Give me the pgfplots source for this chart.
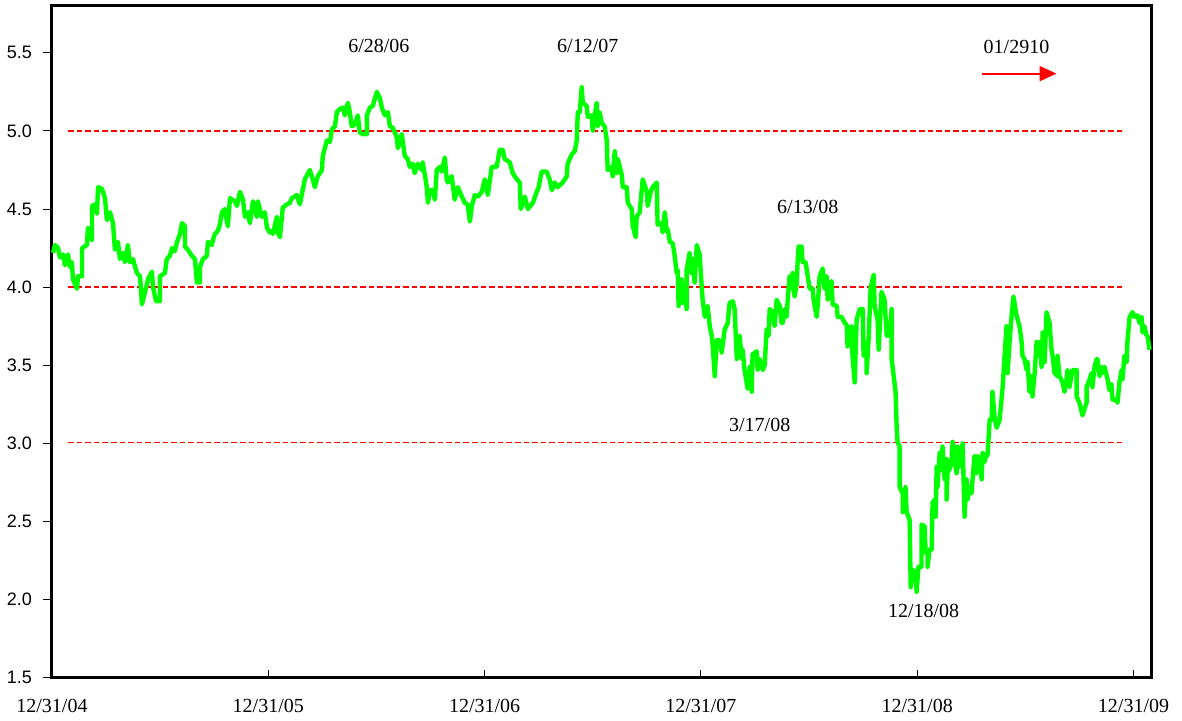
\documentclass[border=0pt]{standalone}
\usepackage{fontspec}
\setmainfont{Liberation Serif}
\newfontfamily\arialfont{Liberation Sans}
\usepackage{pgfplots}
\pgfplotsset{compat=1.18}
\usetikzlibrary{arrows.meta}
\definecolor{lgreen}{RGB}{0,255,0}
\definecolor{dred}{RGB}{255,0,0}
\begin{document}
\begin{tikzpicture}
\begin{axis}[
 at={(0,0)}, anchor=south west,
 scale only axis, width=549.75pt, height=336pt,
 xmin=0, xmax=5.081, ymin=1.5, ymax=5.80,
 axis line style={line width=1.5pt},
 xtick={0,1,2,3,4,5},
 xticklabels={12/31/04,12/31/05,12/31/06,12/31/07,12/31/08,12/31/09},
 ytick={1.5,2,2.5,3,3.5,4,4.5,5,5.5},
 xtick pos=bottom, ytick pos=left,
 tick align=inside,
 major tick length=4pt,
 tick style={black, line width=0.5pt},
 ytick style={xshift=-4.5pt},
 xticklabel style={font=\fontsize{10}{12}\selectfont, yshift=-7pt},
 yticklabel style={font=\arialfont\fontsize{9}{10}\selectfont, xshift=-6.5pt,
   /pgf/number format/.cd, fixed, fixed zerofill, precision=1, assume math mode=true},
 clip=false,
]
\addplot[draw=dred, line width=0.8pt, dash pattern=on 2.8pt off 1.5pt, forget plot] table {
0.074 5
4.96 5

0.074 4
4.96 4

0.074 3.005
4.96 3.005
};
\addplot[lgreen, line width=2.2pt, line join=round] table {
0.005 4.22
0.014 4.27
0.028 4.25
0.037 4.19
0.051 4.21
0.060 4.14
0.074 4.21
0.083 4.13
0.092 4.16
0.097 4.05
0.116 3.99
0.120 4.07
0.139 4.07
0.139 4.25
0.162 4.27
0.166 4.38
0.185 4.30
0.185 4.52
0.199 4.53
0.208 4.47
0.213 4.64
0.231 4.63
0.245 4.57
0.254 4.43
0.268 4.48
0.282 4.41
0.291 4.24
0.305 4.29
0.314 4.18
0.328 4.22
0.337 4.16
0.351 4.27
0.360 4.16
0.374 4.18
0.393 4.09
0.407 4.07
0.416 3.89
0.430 3.97
0.444 4.05
0.462 4.10
0.467 4.00
0.481 3.91
0.499 3.91
0.499 4.07
0.522 4.09
0.531 4.18
0.545 4.20
0.555 4.25
0.568 4.23
0.578 4.29
0.592 4.34
0.601 4.41
0.615 4.39
0.615 4.26
0.628 4.24
0.647 4.20
0.661 4.18
0.670 4.03
0.684 4.03
0.684 4.13
0.698 4.18
0.716 4.20
0.721 4.29
0.739 4.27
0.744 4.30
0.753 4.34
0.767 4.36
0.776 4.40
0.786 4.48
0.799 4.50
0.813 4.39
0.823 4.57
0.846 4.55
0.855 4.52
0.869 4.61
0.883 4.56
0.892 4.45
0.906 4.48
0.915 4.41
0.929 4.55
0.947 4.45
0.952 4.55
0.970 4.45
0.984 4.48
0.994 4.38
1.007 4.35
1.017 4.36
1.021 4.34
1.040 4.45
1.044 4.35
1.054 4.32
1.067 4.51
1.086 4.53
1.100 4.54
1.109 4.57
1.132 4.59
1.141 4.55
1.146 4.53
1.169 4.69
1.192 4.75
1.206 4.69
1.215 4.64
1.229 4.71
1.248 4.75
1.252 4.84
1.271 4.94
1.285 4.93
1.294 5.01
1.308 5.03
1.317 5.12
1.331 5.14
1.345 5.15
1.354 5.10
1.368 5.18
1.377 5.12
1.386 5.03
1.400 5.04
1.414 5.10
1.423 4.99
1.437 4.98
1.456 4.98
1.456 5.10
1.470 5.15
1.483 5.16
1.502 5.25
1.516 5.21
1.525 5.15
1.539 5.10
1.553 5.12
1.562 5.03
1.576 5.02
1.594 4.96
1.599 4.89
1.617 4.98
1.631 4.84
1.645 4.82
1.654 4.77
1.668 4.79
1.677 4.73
1.691 4.79
1.710 4.75
1.714 4.80
1.733 4.64
1.738 4.54
1.747 4.62
1.761 4.62
1.770 4.56
1.779 4.75
1.793 4.77
1.802 4.74
1.816 4.83
1.825 4.69
1.830 4.67
1.848 4.71
1.862 4.56
1.876 4.64
1.895 4.58
1.908 4.54
1.922 4.53
1.932 4.42
1.941 4.52
1.955 4.59
1.969 4.58
1.987 4.61
2.001 4.69
2.015 4.59
2.033 4.77
2.056 4.77
2.070 4.88
2.084 4.88
2.093 4.82
2.116 4.80
2.130 4.73
2.149 4.69
2.163 4.67
2.167 4.50
2.186 4.58
2.200 4.50
2.223 4.54
2.241 4.61
2.250 4.64
2.264 4.74
2.287 4.74
2.301 4.69
2.311 4.62
2.324 4.67
2.338 4.64
2.361 4.67
2.380 4.71
2.384 4.79
2.403 4.85
2.417 4.87
2.426 4.94
2.431 5.12
2.440 5.12
2.449 5.28
2.454 5.18
2.472 5.16
2.477 5.09
2.495 5.10
2.500 5.00
2.518 5.18
2.523 5.03
2.532 5.12
2.542 5.05
2.555 5.03
2.565 4.94
2.569 4.75
2.588 4.77
2.592 4.71
2.602 4.87
2.611 4.73
2.616 4.82
2.634 4.72
2.639 4.64
2.657 4.64
2.662 4.54
2.680 4.50
2.685 4.39
2.699 4.32
2.703 4.45
2.717 4.48
2.731 4.69
2.750 4.61
2.754 4.52
2.768 4.61
2.777 4.64
2.796 4.67
2.800 4.40
2.819 4.41
2.823 4.35
2.833 4.48
2.842 4.36
2.847 4.37
2.856 4.29
2.870 4.28
2.879 4.20
2.888 4.09
2.893 4.11
2.897 3.88
2.911 4.05
2.916 3.90
2.925 4.00
2.934 3.86
2.934 4.11
2.948 4.22
2.957 4.09
2.962 4.18
2.971 4.03
2.981 4.27
2.994 4.21
3.004 4.00
3.008 3.92
3.018 3.81
3.031 3.88
3.041 3.75
3.050 3.69
3.055 3.62
3.064 3.43
3.073 3.66
3.087 3.66
3.096 3.58
3.110 3.73
3.124 3.77
3.133 3.90
3.147 3.91
3.156 3.86
3.166 3.54
3.179 3.69
3.189 3.54
3.193 3.60
3.202 3.47
3.216 3.35
3.226 3.49
3.235 3.33
3.239 3.57
3.258 3.59
3.262 3.47
3.272 3.54
3.286 3.47
3.295 3.50
3.304 3.73
3.313 3.69
3.318 3.86
3.332 3.84
3.341 3.75
3.350 3.92
3.364 3.88
3.373 3.77
3.378 3.77
3.387 3.86
3.396 3.81
3.401 3.91
3.410 4.07
3.420 3.99
3.424 4.09
3.433 3.94
3.443 4.02
3.447 4.16
3.452 4.26
3.466 4.26
3.470 4.16
3.484 4.16
3.494 4.07
3.503 3.99
3.517 3.99
3.521 3.92
3.535 3.81
3.540 3.88
3.549 4.07
3.563 4.12
3.572 3.99
3.581 4.07
3.586 3.92
3.604 4.04
3.609 3.89
3.628 3.88
3.632 3.81
3.651 3.81
3.665 3.77
3.674 3.76
3.678 3.62
3.688 3.73
3.697 3.75
3.701 3.56
3.711 3.39
3.720 3.79
3.734 3.86
3.748 3.86
3.752 3.56
3.766 3.65
3.766 3.45
3.775 3.66
3.785 4.00
3.799 4.08
3.803 3.88
3.817 3.79
3.822 3.60
3.835 3.97
3.849 3.92
3.859 3.69
3.872 3.69
3.882 3.86
3.882 3.54
3.900 3.33
3.905 3.11
3.909 3.01
3.919 2.98
3.919 2.72
3.933 2.68
3.933 2.56
3.946 2.72
3.951 2.56
3.965 2.51
3.970 2.08
3.979 2.19
3.993 2.18
3.997 2.05
4.006 2.21
4.020 2.21
4.020 2.48
4.034 2.47
4.039 2.30
4.048 2.32
4.048 2.21
4.057 2.32
4.067 2.32
4.071 2.62
4.080 2.64
4.085 2.53
4.090 2.85
4.094 2.72
4.104 2.94
4.113 2.83
4.117 2.98
4.127 2.77
4.136 2.90
4.136 2.64
4.140 2.81
4.154 2.85
4.159 2.90
4.164 3.01
4.173 2.90
4.182 2.81
4.187 2.98
4.196 2.85
4.205 2.94
4.210 3.00
4.219 2.53
4.228 2.77
4.233 2.64
4.242 2.72
4.251 2.68
4.256 2.77
4.265 2.92
4.274 2.81
4.279 2.92
4.288 2.90
4.298 2.77
4.302 2.94
4.311 2.88
4.321 2.94
4.325 2.92
4.335 3.15
4.344 3.15
4.348 3.33
4.358 3.17
4.367 3.10
4.381 3.15
4.395 3.36
4.404 3.56
4.413 3.75
4.418 3.45
4.427 3.65
4.436 3.81
4.445 3.94
4.459 3.82
4.473 3.75
4.482 3.66
4.487 3.56
4.496 3.54
4.506 3.47
4.510 3.52
4.519 3.33
4.529 3.43
4.533 3.30
4.543 3.45
4.552 3.65
4.556 3.56
4.566 3.65
4.575 3.49
4.580 3.71
4.589 3.52
4.598 3.84
4.612 3.77
4.621 3.60
4.626 3.56
4.635 3.45
4.649 3.43
4.649 3.56
4.658 3.43
4.672 3.39
4.681 3.33
4.690 3.41
4.695 3.47
4.704 3.36
4.713 3.43
4.718 3.47
4.737 3.47
4.737 3.30
4.750 3.26
4.764 3.18
4.783 3.26
4.783 3.36
4.797 3.41
4.806 3.45
4.810 3.36
4.820 3.49
4.829 3.54
4.834 3.54
4.843 3.43
4.852 3.49
4.857 3.45
4.866 3.49
4.880 3.41
4.889 3.34
4.898 3.38
4.903 3.28
4.921 3.28
4.926 3.26
4.935 3.39
4.945 3.47
4.949 3.41
4.958 3.56
4.968 3.52
4.972 3.65
4.982 3.81
4.995 3.84
5.005 3.81
5.018 3.82
5.028 3.77
5.037 3.81
5.042 3.71
5.051 3.75
5.060 3.69
5.065 3.69
5.074 3.60
};
\addplot[dred, line width=1pt, -{Triangle[length=8.5pt,width=7.5pt]}] coordinates {(4.298,5.367) (4.644,5.367)};
\node[anchor=base, font=\fontsize{10}{12}\selectfont] at (axis cs:1.511,5.50) {6/28/06};
\node[anchor=base, font=\fontsize{10}{12}\selectfont] at (axis cs:2.477,5.50) {6/12/07};
\node[anchor=base, font=\fontsize{10}{12}\selectfont] at (axis cs:3.494,4.471) {6/13/08};
\node[anchor=base, font=\fontsize{10}{12}\selectfont] at (axis cs:3.272,3.076) {3/17/08};
\node[anchor=base, font=\fontsize{10}{12}\selectfont] at (axis cs:4.030,1.886) {12/18/08};
\node[anchor=base, font=\fontsize{10}{12}\selectfont] at (axis cs:4.459,5.495) {01/2910};
\end{axis}
\pgfresetboundingbox
\path[use as bounding box] (-26pt,-21.5pt) rectangle (565.25pt,339pt);
\end{tikzpicture}
\end{document}
